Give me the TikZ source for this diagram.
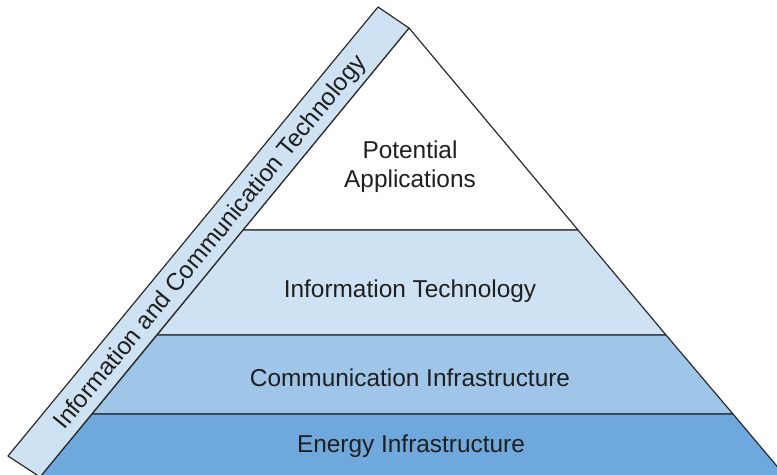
\documentclass[tikz,border=0pt]{standalone}
\usepackage{fontspec}
\setmainfont{Liberation Sans}
\definecolor{layA}{HTML}{CFE2F3}
\definecolor{layB}{HTML}{9FC5E8}
\definecolor{layC}{HTML}{6FA8DC}
\definecolor{linegray}{HTML}{2B2B2B}
\definecolor{textgray}{HTML}{1F1F1F}
\begin{document}
\begin{tikzpicture}[x=1bp,y=-1bp,
  layer/.style={draw=linegray, line width=1.2bp, line join=round},
  lbl/.style={font=\fontsize{24.5}{29}\selectfont, text=textgray, align=center, inner sep=0pt}]
\useasboundingbox (0,0) rectangle (777,475);
\clip (0,0) rectangle (777,475);
\coordinate (apex) at (409,28);
\coordinate (L1) at (243,230);
\coordinate (R1) at (578,230);
\coordinate (L2) at (157,335);
\coordinate (R2) at (666,335);
\coordinate (L3) at (92,414);
\coordinate (R3) at (733,414);
\coordinate (L4) at (40,477);
\coordinate (R4) at (786,477);
\coordinate (B1) at (378,7);
\coordinate (B2) at (8,456);
% layers
\filldraw[layer, fill=white] (apex) -- (R1) -- (L1) -- cycle;
\filldraw[layer, fill=layA] (L1) -- (R1) -- (R2) -- (L2) -- cycle;
\filldraw[layer, fill=layB] (L2) -- (R2) -- (R3) -- (L3) -- cycle;
\filldraw[layer, fill=layC] (L3) -- (R3) -- (R4) -- (L4) -- cycle;
% side band
\filldraw[layer, fill=layA] (apex) -- (B1) -- (B2) -- (L4) -- cycle;
% labels
\node[lbl] (pa) at (410,167) {Potential\\Applications};
\node[lbl] (it) at (410,291) {Information Technology};
\node[lbl] (ci) at (410,378) {Communication Infrastructure};
\node[lbl] (ei) at (411,446) {Energy Infrastructure};
\node[lbl, rotate=50.6] (ict) at (211,243) {Information and Communication Technology};
\end{tikzpicture}
\end{document}
